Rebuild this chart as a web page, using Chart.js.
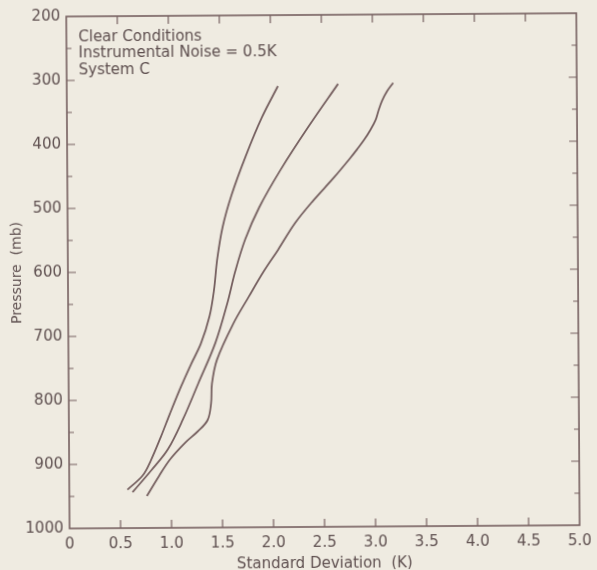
<!DOCTYPE html>
<html>
<head>
<meta charset="utf-8">
<script src="https://cdn.jsdelivr.net/npm/chart.js@4/dist/chart.umd.min.js"></script>
<style>
  html, body { margin: 0; padding: 0; background: #efebe1; }
  #wrap { width: 597px; height: 570px; }
  #chart { transform: rotate(-0.37deg); }
</style>
</head>
<body>
<div id="wrap"><canvas id="chart" width="597" height="570"></canvas></div>
<script>
// standard deviation (K) against pressure (mb)
var leftSd   = [2.07, 1.91, 1.75, 1.61, 1.52, 1.465, 1.43, 1.385, 1.30, 1.20, 1.10, 0.99, 0.90, 0.80, 0.72, 0.57];
var leftP    = [311, 360, 420, 480, 530, 580, 630, 670, 712, 745, 780, 822, 858, 895, 918, 940];
var middleSd = [2.66, 2.37, 2.09, 1.88, 1.74, 1.64, 1.56, 1.44, 1.27, 1.12, 0.97, 0.81, 0.62];
var middleP  = [308, 374, 442, 500, 550, 600, 650, 712, 775, 830, 877, 909, 944];
var rightSd  = [3.20, 3.14, 3.09, 3.055, 3.025, 2.975, 2.915, 2.845, 2.77, 2.61, 2.41, 2.23, 2.06, 1.92, 1.77, 1.62, 1.455, 1.405, 1.395, 1.36, 1.26, 1.14, 0.99, 0.88, 0.76];
var rightP   = [307, 320, 335, 350, 365, 380, 395, 410, 425, 455, 490, 525, 567, 600, 640, 681, 738, 775, 806, 832, 850, 867, 893, 919, 950];

var xTicks = [0, 0.5, 1.0, 1.5, 2.0, 2.5, 3.0, 3.5, 4.0, 4.5, 5.0];
var yTicks = [200, 300, 400, 500, 600, 700, 800, 900, 1000];
var notes = ['Clear Conditions', 'Instrumental Noise = 0.5K', 'System C'];

var ink = '#5e4f4f';
var lineCol = '#766060';
var font = 'DejaVu Sans';

function points(xs, ys) {
  var out = [];
  for (var i = 0; i < xs.length; i++) out.push({x: xs[i], y: ys[i]});
  return out;
}

function curve(xs, ys) {
  return {
    data: points(xs, ys),
    borderColor: lineCol,
    borderWidth: 1.8,
    pointRadius: 0,
    tension: 0.35,
    fill: false
  };
}

// frame, inward ticks and the note block
var framePlugin = {
  id: 'frame',
  afterDraw: function(chart) {
    var ctx = chart.ctx, a = chart.chartArea;
    var xs = chart.scales.x, ys = chart.scales.y;
    ctx.save();
    ctx.strokeStyle = lineCol;
    ctx.lineWidth = 1.6;
    ctx.strokeRect(a.left, a.top, a.right - a.left, a.bottom - a.top);
    ctx.lineWidth = 1.2;
    ctx.beginPath();
    for (var v = 250; v < 1000; v += 50) {
      var py = ys.getPixelForValue(v);
      var len = v % 100 === 0 ? 8 : 5;
      ctx.moveTo(a.left, py); ctx.lineTo(a.left + len, py);
      ctx.moveTo(a.right, py); ctx.lineTo(a.right - len, py);
    }
    for (var i = 1; i < xTicks.length - 1; i++) {
      var px = xs.getPixelForValue(xTicks[i]);
      ctx.moveTo(px, a.bottom); ctx.lineTo(px, a.bottom - 8);
      ctx.moveTo(px, a.top); ctx.lineTo(px, a.top + 8);
    }
    ctx.stroke();
    ctx.fillStyle = ink;
    ctx.font = '15px "' + font + '"';
    ctx.textBaseline = 'alphabetic';
    for (var j = 0; j < notes.length; j++) {
      ctx.fillText(notes[j], a.left + 12, 40 + j * 16.3);
    }
    ctx.restore();
  }
};

new Chart(document.getElementById('chart'), {
  type: 'scatter',
  data: {
    datasets: [
      curve(leftSd, leftP),
      curve(middleSd, middleP),
      curve(rightSd, rightP)
    ]
  },
  options: {
    responsive: false,
    animation: false,
    showLine: true,
    layout: { padding: { top: 15, right: 17, left: 0, bottom: 0 } },
    plugins: { legend: { display: false }, tooltip: { enabled: false } },
    scales: {
      x: {
        type: 'linear',
        min: 0, max: 5,
        afterFit: function(s) { s.height = 43; },
        afterBuildTicks: function(s) { s.ticks = xTicks.map(function(v) { return {value: v}; }); },
        grid: { display: false, drawTicks: false },
        border: { display: false },
        ticks: {
          color: ink, padding: 7,
          font: { family: font, size: 15 },
          maxRotation: 0, autoSkip: false,
          callback: function(v) { return v === 0 ? '0' : v.toFixed(1); }
        },
        title: {
          display: true, text: 'Standard Deviation  (K)', color: ink,
          font: { family: font, size: 15, lineHeight: 1 },
          padding: { top: 0, bottom: -2 }
        }
      },
      y: {
        type: 'linear',
        min: 200, max: 1000, reverse: true,
        afterFit: function(s) { s.width = 68; },
        afterBuildTicks: function(s) { s.ticks = yTicks.map(function(v) { return {value: v}; }); },
        grid: { display: false, drawTicks: false },
        border: { display: false },
        ticks: {
          color: ink, padding: 6,
          font: { family: font, size: 15 },
          autoSkip: false,
          callback: function(v) { return String(v); }
        },
        title: {
          display: true, text: 'Pressure  (mb)', color: ink,
          font: { family: font, size: 14, lineHeight: 1 },
          padding: { top: 10, bottom: 0 }
        }
      }
    }
  },
  plugins: [framePlugin]
});
</script>
</body>
</html>
